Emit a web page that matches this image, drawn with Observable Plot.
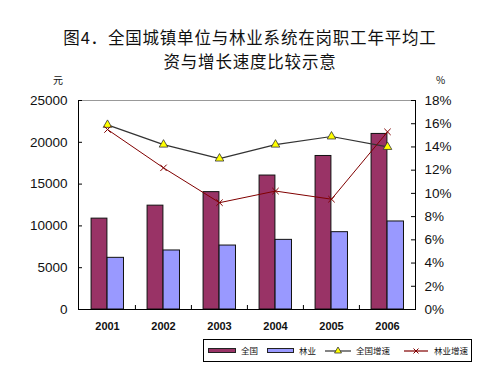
<!DOCTYPE html>
<html>
<head>
<meta charset="utf-8">
<script src="https://cdn.jsdelivr.net/npm/d3@7"></script>
<script src="https://cdn.jsdelivr.net/npm/@observablehq/plot@0.6"></script>
<style>
  html, body { margin: 0; padding: 0; background: #fff; }
  #wrap { position: relative; width: 500px; height: 374px; overflow: hidden; font-family: "Liberation Sans", Arial, sans-serif; }
  .title { position: absolute; left: 0; width: 500px; text-align: center; font-family: "Noto Sans CJK SC", sans-serif; font-size: 16.5px; letter-spacing: 0.8px; line-height: 24px; height: 24px; color: #111; }
  #chart { position: absolute; left: 0; top: 70px; }
  .unit { position: absolute; top: 74px; font-family: "Noto Sans CJK SC", sans-serif; font-size: 10px; line-height: 12px; color: #111; z-index: 2; }
  #legend { position: absolute; left: 203px; top: 339px; width: 267px; height: 21px; border: 1px solid #000; background: #fff; font-family: "Noto Sans CJK SC", sans-serif; font-size: 8.5px; color: #111; }
  #legend .it { position: absolute; top: 0; height: 21px; line-height: 21px; }
  #legend svg { position: absolute; top: 0; }
</style>
</head>
<body>
<div id="wrap">
  <div class="title" style="top:25px;">图4．全国城镇单位与林业系统在岗职工年平均工</div>
  <div class="title" style="top:49px;">资与增长速度比较示意</div>
  <div id="chart"></div>
  <div class="unit" style="left:53px;">元</div>
  <div class="unit" style="left:436px;">%</div>
  <div id="legend"></div>
</div>
<script>
const years = ["2001", "2002", "2003", "2004", "2005", "2006"];
const national = [10870, 12422, 14040, 16024, 18364, 21001];
const forestry = [6180, 7060, 7650, 8330, 9250, 10530];
const nationalGrowth = [15.9, 14.2, 13.0, 14.2, 14.9, 14.0];
const forestryGrowth = [15.5, 12.2, 9.2, 10.2, 9.5, 15.3];
const leftTicks = [0, 5000, 10000, 15000, 20000, 25000];
const pctTicks = [0, 2, 4, 6, 8, 10, 12, 14, 16, 18];
const seriesNames = ["全国", "林业", "全国增速", "林业增速"];

const yMax = 25000, pMax = 18;
const pctToY = p => p * yMax / pMax;

const rows = years.map((y, i) => ({
  year: y,
  national: national[i],
  forestry: forestry[i],
  ng: pctToY(nationalGrowth[i]),
  fg: pctToY(forestryGrowth[i])
}));

const W = 500, H = 270, mL = 78, mR = 85, mT = 30, mB = 31;
const plotW = W - mL - mR;
const band = plotW / years.length;
const tickLen = 4 * yMax / (H - mT - mB);

const chart = Plot.plot({
  width: W, height: H,
  marginLeft: mL, marginRight: mR, marginTop: mT, marginBottom: mB,
  style: { fontFamily: "Liberation Sans, Arial, sans-serif", fontSize: "13px", color: "#111", background: "#fff" },
  x: { type: "band", domain: years, padding: 0, label: null },
  y: { type: "linear", domain: [0, yMax], label: null },
  marks: [
    Plot.frame({ stroke: "#999" }),
    Plot.barY(rows, { x: "year", y: "national", fill: "#993366", stroke: "#111", strokeWidth: 1, insetLeft: band * 0.215, insetRight: band * 0.5 }),
    Plot.barY(rows, { x: "year", y: "forestry", fill: "#9999FF", stroke: "#111", strokeWidth: 1, insetLeft: band * 0.5, insetRight: band * 0.205 }),
    Plot.line(rows, { x: "year", y: "ng", stroke: "#333", strokeWidth: 1.2 }),
    Plot.dot(rows, { x: "year", y: "ng", symbol: "triangle", r: 3.2, fill: "#ffff00", stroke: "#333", strokeWidth: 0.8 }),
    Plot.line(rows, { x: "year", y: "fg", stroke: "#800000", strokeWidth: 1 }),
    Plot.dot(rows, { x: "year", y: "fg", symbol: "times", r: 3, stroke: "#800000", strokeWidth: 1 }),
    Plot.tickY(leftTicks, { y: d => d, stroke: "#000", insetRight: plotW - 4 }),
    Plot.tickY(pctTicks.map(pctToY), { y: d => d, stroke: "#000", insetLeft: plotW - 4 }),
    Plot.ruleX(years.slice(1), { x: d => d, dx: -band / 2, y1: 0, y2: tickLen, stroke: "#000" }),
    Plot.frame({ anchor: "left", stroke: "#000" }),
    Plot.frame({ anchor: "right", stroke: "#000" }),
    Plot.ruleY([0], { stroke: "#000", strokeWidth: 1.2 }),
    Plot.axisY(leftTicks, { anchor: "left", tickSize: 0, tickPadding: 11, tickFormat: d => String(d), fontSize: 13.5 }),
    Plot.axisY(pctTicks.map(pctToY), { anchor: "right", tickSize: 0, tickPadding: 9, tickFormat: d => Math.round(d * pMax / yMax) + "%", fontSize: 13.5 }),
    Plot.axisX({ tickSize: 0, tickPadding: 13, fontSize: 11, fontWeight: "bold", style: "letter-spacing:1px" })
  ]
});
document.getElementById("chart").appendChild(chart);

// legend
const legend = document.getElementById("legend");
const items = [
  { x: 4, w: 27, kind: "rect", fill: "#993366", tx: 37, label: seriesNames[0] },
  { x: 63, w: 26, kind: "rect", fill: "#9999FF", tx: 95, label: seriesNames[1] },
  { x: 121, w: 26, kind: "line", stroke: "#333", marker: "tri", tx: 152, label: seriesNames[2] },
  { x: 200, w: 24, kind: "line", stroke: "#800000", marker: "x", tx: 230, label: seriesNames[3] }
];
for (const it of items) {
  const svg = d3.create("svg").attr("width", it.w + 2).attr("height", 21).style("left", it.x + "px");
  if (it.kind === "rect") {
    svg.append("rect").attr("x", 0.5).attr("y", 8.5).attr("width", it.w).attr("height", 4).attr("fill", it.fill).attr("stroke", "#222");
  } else {
    svg.append("line").attr("x1", 0).attr("x2", it.w).attr("y1", 11).attr("y2", 11).attr("stroke", it.stroke).attr("stroke-width", 1.2);
    const cx = it.w / 2;
    if (it.marker === "tri") {
      svg.append("path").attr("d", `M${cx},7L${cx + 3.5},13L${cx - 3.5},13Z`).attr("fill", "#ffff00").attr("stroke", "#333").attr("stroke-width", 0.8);
    } else {
      svg.append("path").attr("d", `M${cx - 2.5},8.5L${cx + 2.5},13.5M${cx + 2.5},8.5L${cx - 2.5},13.5`).attr("stroke", it.stroke).attr("stroke-width", 1);
    }
  }
  legend.appendChild(svg.node());
  const t = document.createElement("div");
  t.className = "it";
  t.style.left = it.tx + "px";
  t.textContent = it.label;
  legend.appendChild(t);
}
</script>
</body>
</html>
